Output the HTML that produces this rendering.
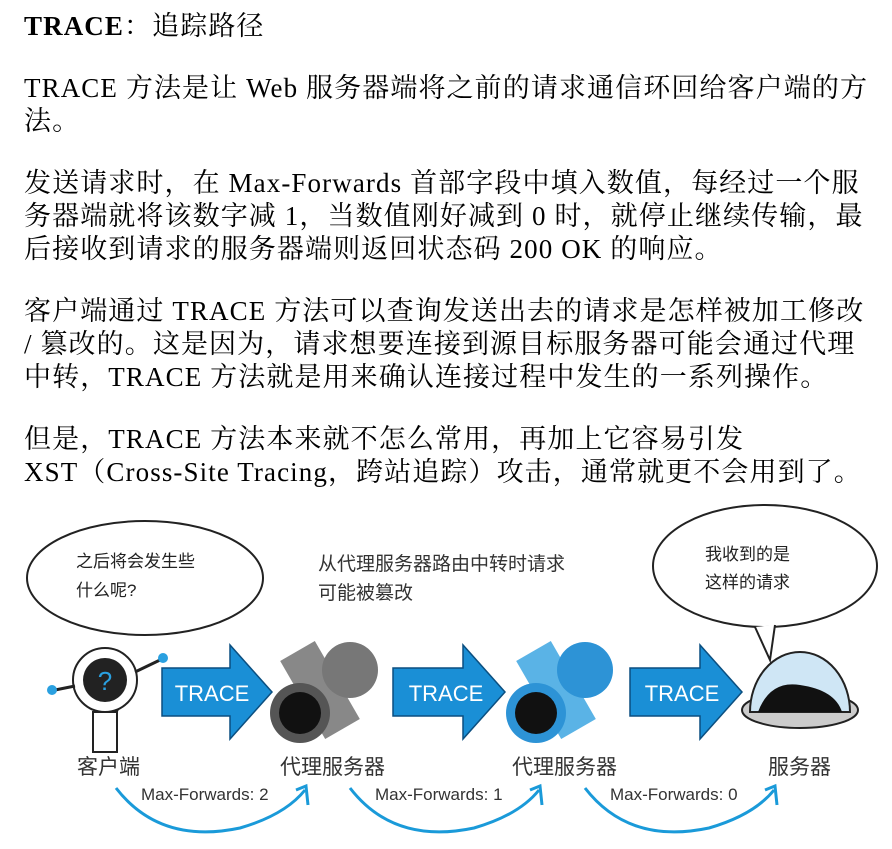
<!DOCTYPE html>
<html><head><meta charset="utf-8"><style>
body{margin:0;width:892px;height:849px;background:#fff;position:relative;overflow:hidden;font-family:"Liberation Serif","Noto Serif CJK SC",serif;color:#000}
.t{position:absolute;left:24px;font-size:27px;white-space:nowrap;line-height:32px;letter-spacing:1.1px}
.s{position:absolute;font-family:"Liberation Sans","Noto Sans CJK SC",sans-serif;white-space:nowrap;color:#333}
.h{position:absolute;font-family:"Liberation Sans","Noto Sans CJK SC",sans-serif;font-size:17px;color:#222;white-space:nowrap;line-height:28px}
</style></head><body>
<div class="t" style="top:10px"><b>TRACE</b>：追踪路径</div>
<div class="t" style="top:72px">TRACE 方法是让 Web 服务器端将之前的请求通信环回给客户端的方</div>
<div class="t" style="top:105px">法。</div>
<div class="t" style="top:167px">发送请求时，在 Max-Forwards 首部字段中填入数值，每经过一个服</div>
<div class="t" style="top:200px">务器端就将该数字减 1，当数值刚好减到 0 时，就停止继续传输，最</div>
<div class="t" style="top:233px">后接收到请求的服务器端则返回状态码 200 OK 的响应。</div>
<div class="t" style="top:295px">客户端通过 TRACE 方法可以查询发送出去的请求是怎样被加工修改</div>
<div class="t" style="top:328px">/ 篡改的。这是因为，请求想要连接到源目标服务器可能会通过代理</div>
<div class="t" style="top:361px">中转，TRACE 方法就是用来确认连接过程中发生的一系列操作。</div>
<div class="t" style="top:423px">但是，TRACE 方法本来就不怎么常用，再加上它容易引发</div>
<div class="t" style="top:456px">XST（Cross-Site Tracing，跨站追踪）攻击，通常就更不会用到了。</div>

<svg width="892" height="849" style="position:absolute;left:0;top:0">
<g fill="none" stroke="#222" stroke-width="2">
<ellipse cx="145" cy="578" rx="118" ry="57"/>
<ellipse cx="765" cy="566" rx="112" ry="61"/>
<path d="M755 627 L770 660 L775 625" fill="#fff"/>
</g>
<circle cx="112" cy="708" r="6" fill="none" stroke="#222" stroke-width="2"/>
<g fill="#1a8fd6" stroke="#0b4f80" stroke-width="1.5">
<path d="M162 668 H230 V645 L272 692 L230 739 V716 H162 Z"/>
<path d="M393 668 H463 V645 L505 692 L463 739 V716 H393 Z"/>
<path d="M630 668 H700 V645 L742 692 L700 739 V716 H630 Z"/>
</g>
<g font-family="Liberation Sans,sans-serif" font-size="22" fill="#fff" text-anchor="middle">
<text x="212" y="701">TRACE</text><text x="446" y="701">TRACE</text><text x="682" y="701">TRACE</text>
</g>
<circle cx="105" cy="680" r="32" fill="#fff" stroke="#222" stroke-width="2"/>
<circle cx="105" cy="680" r="22" fill="#222"/>
<text x="105" y="690" fill="#2aa0e0" font-size="26" font-family="Liberation Sans" text-anchor="middle">?</text>
<rect x="93" y="712" width="24" height="40" fill="#fff" stroke="#222" stroke-width="2"/>
<line x1="55" y1="690" x2="75" y2="686" stroke="#222" stroke-width="3"/><circle cx="52" cy="690" r="5" fill="#2aa0e0"/>
<line x1="135" y1="672" x2="160" y2="660" stroke="#222" stroke-width="3"/><circle cx="163" cy="658" r="5" fill="#2aa0e0"/>
<rect x="300" y="645" width="40" height="90" fill="#888" transform="rotate(-30 320 690)"/>
<circle cx="350" cy="670" r="28" fill="#777"/>
<circle cx="300" cy="713" r="30" fill="#555"/><circle cx="300" cy="713" r="21" fill="#111"/>
<rect x="536" y="645" width="40" height="90" fill="#5ab3e6" transform="rotate(-30 556 690)"/>
<circle cx="585" cy="670" r="28" fill="#2d93d6"/>
<circle cx="536" cy="713" r="30" fill="#2d93d6"/><circle cx="536" cy="713" r="21" fill="#111"/>
<ellipse cx="800" cy="710" rx="58" ry="18" fill="#ccc" stroke="#222" stroke-width="2"/>
<path d="M750 712 A50 60 0 0 1 850 712 Z" fill="#cfe6f5" stroke="#222" stroke-width="2"/>
<path d="M758 712 Q770 680 800 685 Q835 690 842 712 Z" fill="#111"/>
<g fill="none" stroke="#1a9ad9" stroke-width="3">
<path d="M116 788 Q160 845 240 828 Q285 815 305 790"/>
<path d="M350 788 Q394 845 474 828 Q519 815 539 790"/>
<path d="M585 788 Q629 845 709 828 Q754 815 774 790"/>
<path d="M296 790 L306 786 L308 805"/><path d="M530 790 L540 786 L542 805"/><path d="M765 790 L775 786 L777 805"/>
</g>
</svg>
<div class="h" style="left:76px;top:548px">之后将会发生些</div>
<div class="h" style="left:76px;top:577px">什么呢?</div>
<div class="h" style="left:705px;top:541px">我收到的是</div>
<div class="h" style="left:705px;top:569px">这样的请求</div>
<div class="s" style="left:318px;top:550px;font-size:19px;line-height:29px">从代理服务器路由中转时请求<br>可能被篡改</div>
<div class="s" style="left:77px;top:751px;font-size:21px">客户端</div>
<div class="s" style="left:280px;top:751px;font-size:21px">代理服务器</div>
<div class="s" style="left:512px;top:751px;font-size:21px">代理服务器</div>
<div class="s" style="left:768px;top:751px;font-size:21px">服务器</div>
<div class="s" style="left:141px;top:785px;font-size:17px">Max-Forwards: 2</div>
<div class="s" style="left:375px;top:785px;font-size:17px">Max-Forwards: 1</div>
<div class="s" style="left:610px;top:785px;font-size:17px">Max-Forwards: 0</div>
</body></html>
